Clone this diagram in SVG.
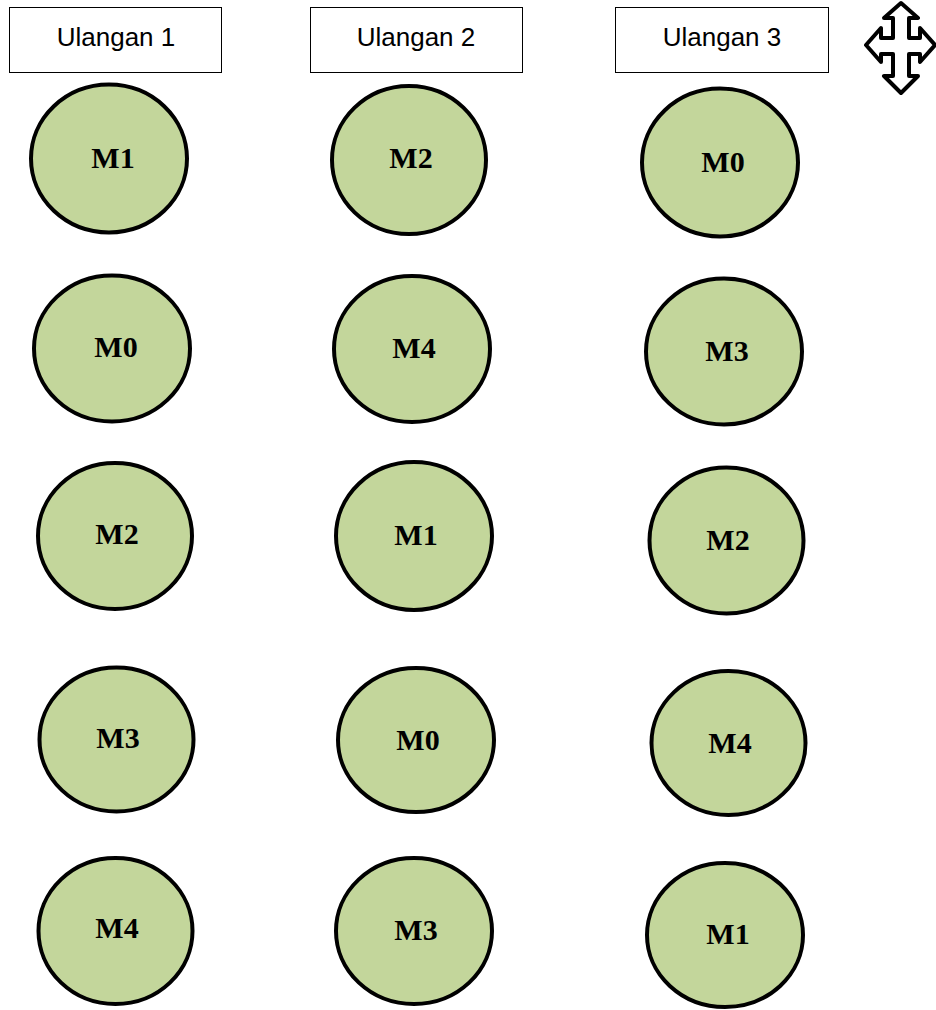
<svg xmlns="http://www.w3.org/2000/svg" width="936" height="1010" viewBox="0 0 936 1010">
<style>
.hdr rect{fill:#fff;stroke:#000;stroke-width:1}
.hdr text{font-family:"Liberation Sans",Arial,sans-serif;font-size:26px;fill:#000;text-anchor:middle}
.n ellipse{fill:#C3D69B;stroke:#000;stroke-width:4}
.n text{font-family:"Liberation Serif","Times New Roman",serif;font-weight:bold;font-size:30px;fill:#000;text-anchor:middle}
</style>
<rect width="936" height="1010" fill="#fff"/>
<g id="h1" class="hdr"><rect x="9.5" y="7.5" width="212" height="65"/><text x="116" y="46">Ulangan 1</text></g>
<g id="h2" class="hdr"><rect x="310.5" y="7.5" width="212" height="65"/><text x="416" y="46">Ulangan 2</text></g>
<g id="h3" class="hdr"><rect x="615.5" y="7.5" width="213" height="65"/><text x="722" y="46">Ulangan 3</text></g>
<g id="arrow"><path d="M901,3 L918,18 L909,18 L909,38 L920,38 L920,28 L935,45 L920,62 L920,54 L909,54 L909,76 L918,76 L901,93 L884,76 L893,76 L893,54 L881,54 L881,62 L866,45 L881,28 L881,38 L893,38 L893,18 L884,18 Z" fill="#fff" stroke="#000" stroke-width="4" stroke-linejoin="round"/></g>
<g id="c1r1" class="n"><ellipse cx="109" cy="158.5" rx="78" ry="74"/><text x="113" y="168">M1</text></g>
<g id="c1r2" class="n"><ellipse cx="112" cy="348.5" rx="78" ry="73"/><text x="116" y="357">M0</text></g>
<g id="c1r3" class="n"><ellipse cx="115" cy="536" rx="77" ry="73"/><text x="117" y="544">M2</text></g>
<g id="c1r4" class="n"><ellipse cx="116.5" cy="739.5" rx="77" ry="72"/><text x="118" y="748">M3</text></g>
<g id="c1r5" class="n"><ellipse cx="115.5" cy="931" rx="77" ry="73"/><text x="117" y="938">M4</text></g>
<g id="c2r1" class="n"><ellipse cx="409" cy="160" rx="77" ry="74"/><text x="411" y="168">M2</text></g>
<g id="c2r2" class="n"><ellipse cx="412" cy="349" rx="78" ry="73"/><text x="414" y="358">M4</text></g>
<g id="c2r3" class="n"><ellipse cx="414" cy="536" rx="78" ry="74"/><text x="416" y="545">M1</text></g>
<g id="c2r4" class="n"><ellipse cx="416" cy="740" rx="78" ry="72"/><text x="418" y="750">M0</text></g>
<g id="c2r5" class="n"><ellipse cx="414" cy="931" rx="78" ry="73"/><text x="416" y="940">M3</text></g>
<g id="c3r1" class="n"><ellipse cx="720" cy="162.5" rx="78" ry="74"/><text x="723" y="172">M0</text></g>
<g id="c3r2" class="n"><ellipse cx="724" cy="351.5" rx="78" ry="73"/><text x="727" y="361">M3</text></g>
<g id="c3r3" class="n"><ellipse cx="726.5" cy="540.5" rx="77" ry="73"/><text x="728" y="550">M2</text></g>
<g id="c3r4" class="n"><ellipse cx="728.5" cy="743" rx="77" ry="72"/><text x="730" y="753">M4</text></g>
<g id="c3r5" class="n"><ellipse cx="725" cy="935" rx="78" ry="72"/><text x="728" y="944">M1</text></g>
<g id="connectors"/>
</svg>
